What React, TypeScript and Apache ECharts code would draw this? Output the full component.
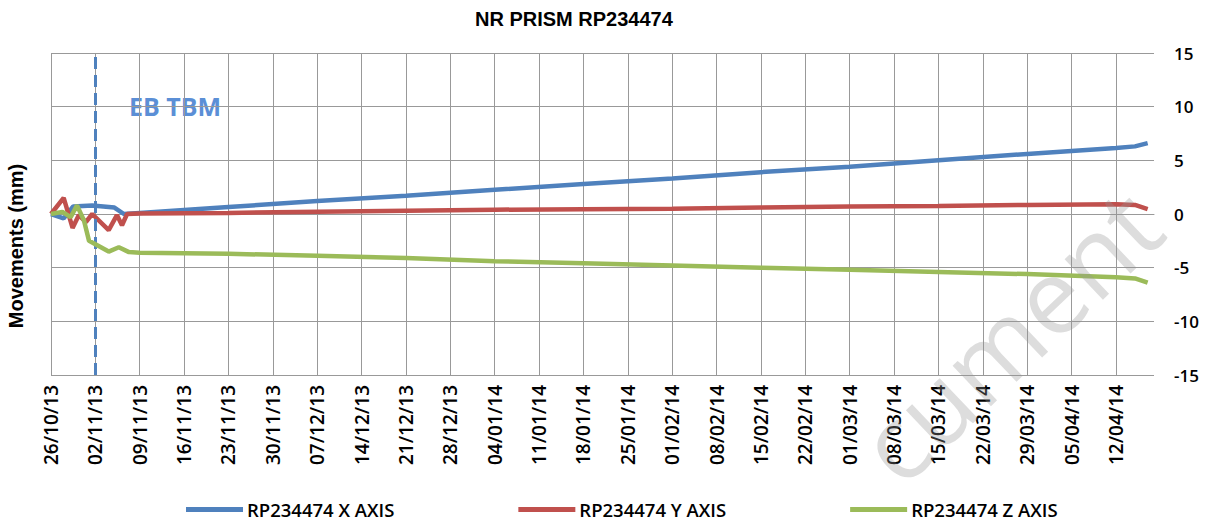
import React, { useEffect, useRef } from 'react';
import * as echarts from 'echarts';

const chartTitle = 'NR PRISM RP234474';
const yAxisTitle = 'Movements (mm)';
const eventLabel = 'EB TBM';
const watermarkText = 'cument';
const eventDay = 7;
const tickLabels = [
  '26/10/13', '02/11/13', '09/11/13', '16/11/13', '23/11/13', '30/11/13', '07/12/13',
  '14/12/13', '21/12/13', '28/12/13', '04/01/14', '11/01/14', '18/01/14', '25/01/14',
  '01/02/14', '08/02/14', '15/02/14', '22/02/14', '01/03/14', '08/03/14', '15/03/14',
  '22/03/14', '29/03/14', '05/04/14', '12/04/14',
];
const seriesNames = ['RP234474 X AXIS', 'RP234474 Y AXIS', 'RP234474 Z AXIS'];
const seriesColors = ['#4F81BD', '#C0504D', '#9BBB59'];

// days since 26/10/13
const xDays = [0, 2, 3.5, 6.5, 10, 11.5, 14, 28, 42, 56, 70, 84, 98, 112, 126, 140, 154, 168, 171, 173];
const xVals = [0, -0.4, 0.7, 0.8, 0.6, 0.0, 0.1, 0.65, 1.2, 1.7, 2.25, 2.8, 3.3, 3.9, 4.4, 5.0, 5.6, 6.15, 6.3, 6.6];

const yDays = [0, 2, 3.4, 4.4, 5.5, 6.5, 9.1, 10.4, 11.2, 12, 14, 28, 42, 56, 70, 84, 98, 112, 126, 140, 154, 168, 171, 173];
const yVals = [0, 1.5, -1.3, -0.1, -0.75, 0, -1.5, -0.1, -1.05, 0, 0.05, 0.1, 0.2, 0.3, 0.4, 0.45, 0.5, 0.6, 0.7, 0.75, 0.85, 0.9, 0.85, 0.45];

const zDays = [0, 1.8, 3.1, 4.1, 5.2, 6, 9.1, 10.7, 12.3, 14, 28, 42, 56, 70, 84, 98, 112, 126, 140, 154, 168, 171, 173];
const zVals = [0, 0.2, -0.3, 0.8, -0.6, -2.5, -3.5, -3.1, -3.55, -3.6, -3.7, -3.9, -4.1, -4.4, -4.6, -4.8, -5.0, -5.2, -5.4, -5.6, -5.9, -6.0, -6.4];

const xMax = 174;
const weekInterval = 7;

export default function App() {
  const ref = useRef<HTMLDivElement>(null);
  useEffect(() => {
    if (!ref.current) return;
    const chart = echarts.init(ref.current, undefined, { renderer: 'svg' });
    const pairs = [
      [xDays, xVals],
      [yDays, yVals],
      [zDays, zVals],
    ];
    const gridColor = '#999999';
    const splitColors = tickLabels.map(() => gridColor).concat(['rgba(0,0,0,0)']);
    chart.setOption({
      animation: false,
      backgroundColor: '#ffffff',
      grid: { left: 51, right: 60, top: 53, bottom: 146, containLabel: false },
      xAxis: {
        type: 'value',
        min: 0,
        max: xMax,
        interval: weekInterval,
        axisLine: { show: true, lineStyle: { color: gridColor, width: 1 } },
        axisTick: { show: false },
        splitLine: { show: true, lineStyle: { color: splitColors, width: 1 } },
        axisLabel: {
          rotate: 90,
          margin: 10,
          showMaxLabel: false,
          fontFamily: 'Open Sans',
          fontSize: 19,
          fontWeight: 600,
          color: '#000',
          formatter: (v: number) => {
            const i = Math.round(v / weekInterval);
            return Math.abs(v - i * weekInterval) < 0.01 && tickLabels[i] ? tickLabels[i] : '';
          },
        },
      },
      yAxis: {
        type: 'value',
        position: 'right',
        min: -15,
        max: 15,
        interval: 5,
        axisLine: { show: false },
        axisTick: { show: false },
        splitLine: { show: true, lineStyle: { color: gridColor, width: 1 } },
        axisLabel: {
          margin: 20,
          align: 'left',
          fontFamily: 'Open Sans',
          fontSize: 17,
          fontWeight: 600,
          color: '#000',
        },
      },
      legend: {
        data: seriesNames,
        left: 181,
        top: 495,
        icon: 'rect',
        itemWidth: 57,
        itemHeight: 5,
        itemGap: 124,
        textStyle: { fontFamily: 'Open Sans', fontSize: 18.5, fontWeight: 600, color: '#000', padding: [0, 0, 0, -1] },
      },
      graphic: [
        {
          type: 'text',
          left: 475,
          top: 9,
          style: { text: chartTitle, font: 'bold 20px "Liberation Sans", Arial, sans-serif', fill: '#000' },
        },
        {
          type: 'text',
          x: 16,
          y: 246,
          rotation: Math.PI / 2,
          style: {
            text: yAxisTitle,
            font: 'bold 20px "Liberation Sans", Arial, sans-serif',
            fill: '#000',
            textAlign: 'center',
            textVerticalAlign: 'middle',
          },
        },
        {
          type: 'text',
          x: 129,
          y: 106,
          style: {
            text: eventLabel,
            font: 'bold 25px "Open Sans", sans-serif',
            fill: '#5B8FD6',
            textAlign: 'left',
            textVerticalAlign: 'middle',
          },
        },
        {
          type: 'text',
          x: 1008,
          y: 334,
          rotation: 0.76,
          z: 100,
          silent: true,
          style: {
            text: watermarkText,
            font: '104px "Open Sans", sans-serif',
            fill: 'rgba(150,150,150,0.32)',
            textAlign: 'center',
            textVerticalAlign: 'middle',
          },
        },
      ],
      series: pairs.map(([d, v], si) => ({
        name: seriesNames[si],
        type: 'line',
        data: (d as number[]).map((day, i) => [day, (v as number[])[i]]),
        showSymbol: false,
        symbol: 'none',
        color: seriesColors[si],
        lineStyle: { width: 4.5, color: seriesColors[si] },
        z: 3 + si,
        markLine:
          si === 0
            ? {
                silent: true,
                symbol: 'none',
                label: { show: false },
                lineStyle: { type: [12, 6], color: '#4F81BD', width: 3 },
                data: [{ xAxis: eventDay }],
              }
            : undefined,
      })),
    });
    return () => chart.dispose();
  }, []);
  return <div ref={ref} style={{ position: 'fixed', left: 0, top: 0, width: 1214, height: 521 }} />;
}
